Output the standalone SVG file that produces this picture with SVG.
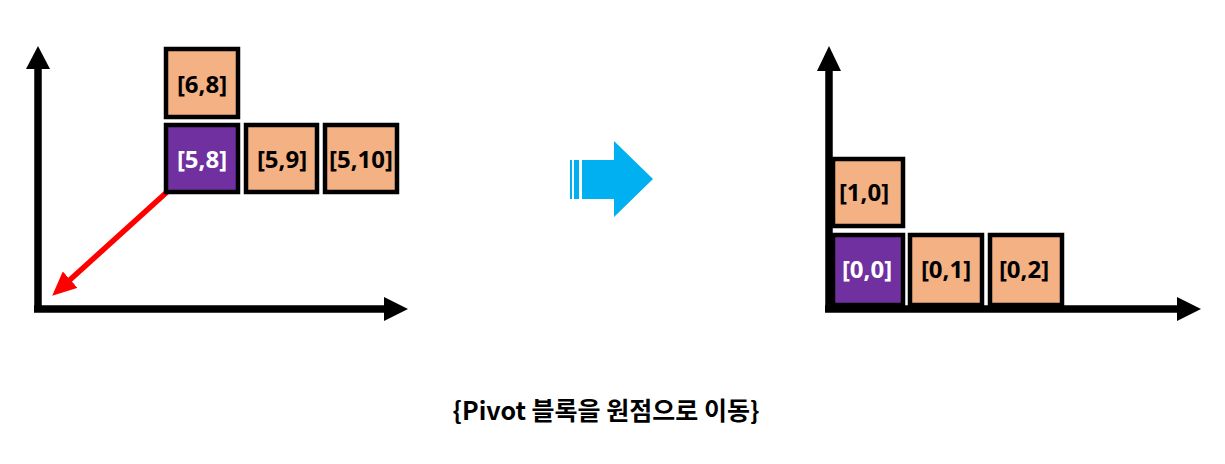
<svg xmlns="http://www.w3.org/2000/svg" width="1225" height="464" viewBox="0 0 1225 464">
<defs>
<style>
.axis{stroke:#000;stroke-width:7.5;fill:none}
.box{stroke:#000;stroke-width:4.5}
.o{fill:#F4B183}
.p{fill:#7030A0}
.t{font-family:"Noto Sans","Noto Sans CJK KR",sans-serif;font-weight:bold;font-size:24px;text-anchor:middle}
.bk{fill:#000}
.wh{fill:#fff}
.cap{font-family:"Noto Sans CJK KR","Noto Sans",sans-serif;font-weight:bold;font-size:25px;text-anchor:middle;fill:#000}
</style>
<marker id="ah" markerWidth="4.4" markerHeight="4" refX="2" refY="2" orient="auto" markerUnits="strokeWidth"><path d="M0,0 L4.4,2 L0,4 Z" fill="#f00"/></marker>
</defs>
<g id="connectors">
<path class="axis" d="M38,309 V66"/>
<path d="M26,69 L38,46 L50,69 Z" fill="#000"/>
<path class="axis" d="M34,309 H386"/>
<path d="M384,297 L408,309 L384,321 Z" fill="#000"/>
<path class="axis" d="M829,309 V68"/>
<path d="M817,71 L829,46 L841,71 Z" fill="#000"/>
<path class="axis" d="M825,309 H1179"/>
<path d="M1177,297 L1201,309 L1177,321 Z" fill="#000"/>
<line x1="167" y1="192" x2="62" y2="287" stroke="#f00" stroke-width="5.5" marker-end="url(#ah)"/>
</g>
<g id="move-arrow" fill="#00B0F0">
<rect x="570" y="160" width="2" height="39"/>
<rect x="574" y="160" width="5" height="39"/>
<path d="M582,160 H614 V141 L653,179 L614,217 V199 H582 Z"/>
</g>
<g id="n68"><rect class="box o" x="166" y="49" width="72" height="68"/><text class="t bk" x="202" y="93">[6,8]</text></g>
<g id="n58"><rect class="box p" x="166" y="125" width="72" height="67"/><text class="t wh" x="202" y="168">[5,8]</text></g>
<g id="n59"><rect class="box o" x="246" y="125" width="71" height="67"/><text class="t bk" x="282" y="168">[5,9]</text></g>
<g id="n510"><rect class="box o" x="325" y="125" width="72" height="67"/><text class="t bk" x="361" y="168">[5,10]</text></g>
<g id="n10"><rect class="box o" x="833" y="159" width="70" height="67"/><text class="t bk" x="864" y="201">[1,0]</text></g>
<g id="n00"><rect class="box p" x="833" y="235" width="70" height="70"/><text class="t wh" x="867" y="278">[0,0]</text></g>
<g id="n01"><rect class="box o" x="910" y="235" width="72" height="70"/><text class="t bk" x="946" y="278">[0,1]</text></g>
<g id="n02"><rect class="box o" x="990" y="235" width="72" height="70"/><text class="t bk" x="1024" y="278">[0,2]</text></g>
<text class="cap" x="606" y="420">{Pivot 블록을 원점으로 이동}</text>
</svg>
